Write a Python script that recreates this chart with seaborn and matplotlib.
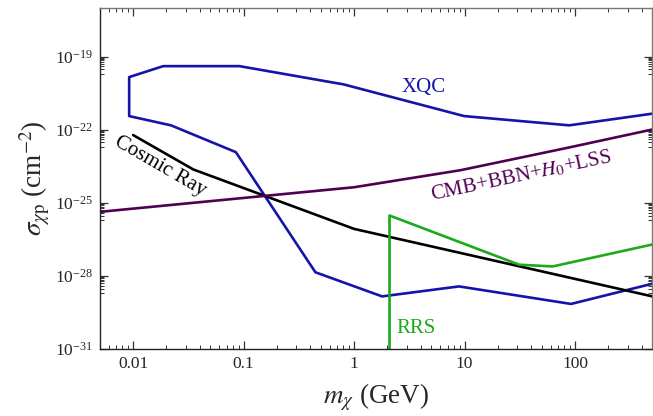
import numpy as np
import pandas as pd
import matplotlib
matplotlib.use("Agg")
import matplotlib.pyplot as plt
import matplotlib.ticker as mticker
import seaborn as sns

# XQC: closed-ish contour (upper edge right->left, then lower edge left->right)
xqc_m = [500, 88.5, 9.9, 0.805, 0.0917, 0.0187, 0.0092, 0.0092, 0.022, 0.085, 0.446, 1.79, 8.9, 91.8, 500]
xqc_logsig = [-21.34, -21.82, -21.44, -20.14, -19.39, -19.39, -19.84, -21.44, -21.82, -22.92, -27.85, -28.84, -28.43, -29.15, -28.32]

# Cosmic ray bound
cr_m = [0.01, 0.035, 1.0, 500]
cr_logsig = [-22.22, -23.63, -26.07, -28.84]

# CMB+BBN+H0+LSS
cmb_m = [0.005, 1.0, 9.2, 85.7, 500]
cmb_logsig = [-25.37, -24.36, -23.66, -22.74, -21.99]

# RRS
rrs_m = [2.09, 2.09, 31.2, 62.7, 500]
rrs_logsig = [-31.0, -25.52, -27.54, -27.61, -26.71]

sns.set_style("ticks")
plt.rcParams['font.family'] = ['Liberation Serif', 'DejaVu Serif']
plt.rcParams['mathtext.fontset'] = 'stix'

fig = plt.figure(figsize=(6.53, 4.16), dpi=100)
ax = fig.add_axes([0.153, 0.161, 0.846, 0.82])

curves = [
    ('XQC', xqc_m, xqc_logsig, '#1414a8'),
    ('Cosmic Ray', cr_m, cr_logsig, '#000000'),
    ('CMB', cmb_m, cmb_logsig, '#500050'),
    ('RRS', rrs_m, rrs_logsig, '#1aaa1a'),
]
for name, m, ls, col in curves:
    df = pd.DataFrame({'m': m, 'sigma': 10.0 ** np.array(ls)})
    sns.lineplot(data=df, x='m', y='sigma', sort=False, estimator=None,
                 color=col, lw=1.9, ax=ax)

ax.set_xscale('log')
ax.set_yscale('log')
ax.set_xlim(0.005, 500)
ax.set_ylim(1e-31, 1e-17)

ax.yaxis.set_major_locator(mticker.FixedLocator([1e-31, 1e-28, 1e-25, 1e-22, 1e-19]))
ax.yaxis.set_major_formatter(mticker.LogFormatterMathtext())
minor_y = [s * 10.0 ** k for k in [-32, -29, -26, -23, -20] for s in range(2, 10)]
ax.yaxis.set_minor_locator(mticker.FixedLocator(minor_y))
ax.yaxis.set_minor_formatter(mticker.NullFormatter())

ax.xaxis.set_major_locator(mticker.FixedLocator([0.01, 0.1, 1, 10, 100]))
ax.xaxis.set_major_formatter(mticker.FixedFormatter(['0.01', '0.1', '1', '10', '100']))
ax.xaxis.set_minor_locator(mticker.LogLocator(base=10, subs=np.arange(2, 10), numticks=20))
ax.xaxis.set_minor_formatter(mticker.NullFormatter())

ax.tick_params(which='both', direction='in', top=True, right=True, labelsize=12.5, color='#333333')
ax.tick_params(which='major', length=6, width=0.9, pad=5)
ax.tick_params(which='minor', length=3, width=0.7)
for side in ['top', 'right']:
    ax.spines[side].set_color('#777777')
for side in ['left', 'bottom']:
    ax.spines[side].set_color('#222222')
for s in ax.spines.values():
    s.set_linewidth(1.0)

ax.set_xlabel(r'$m_\chi$ (GeV)', fontsize=19.5, labelpad=7)
ax.set_ylabel(r'$\sigma_{\chi\mathrm{p}}$ (cm$^{-2}$)', fontsize=19.5, labelpad=2)

ax.text(4.23, 10 ** -20.27, 'XQC', color='#1414a8', fontsize=15, ha='center', va='center')
ax.text(0.0175, 10 ** -23.51, 'Cosmic Ray', color='black', fontsize=15, ha='center', va='center',
        rotation=-30)
ax.text(32.3, 10 ** -23.91, r'CMB+BBN+$H_0$+LSS', color='#500050', fontsize=15, ha='center', va='center',
        rotation=12)
ax.text(3.6, 10 ** -30.14, 'RRS', color='#1aaa1a', fontsize=15, ha='center', va='center')

fig.savefig('out.png', dpi=100)
